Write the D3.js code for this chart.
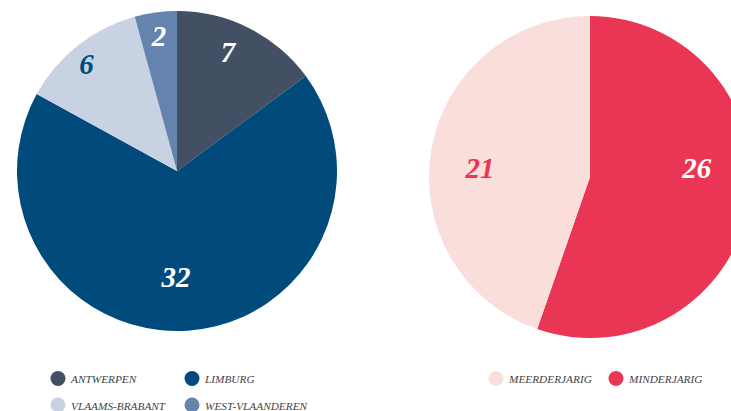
<!DOCTYPE html>
<html>
<head>
<meta charset="utf-8">
<script src="https://cdn.jsdelivr.net/npm/d3@7"></script>
<style>
  body { margin: 0; background: #fff; }
  svg { display: block; }
</style>
</head>
<body>
<svg id="chart" width="731" height="411"></svg>
<script>
// Left pie: provinces
const provinces = ['ANTWERPEN', 'LIMBURG', 'VLAAMS-BRABANT', 'WEST-VLAANDEREN'];
const provinceCounts = [7, 32, 6, 2];
const provinceColors = ['#434f63', '#004b7c', '#c9d2e3', '#6584ad'];
const provinceLabelColors = ['#fff', '#fff', '#004b7c', '#fff'];

// Right pie: age
const ages = ['MINDERJARIG', 'MEERDERJARIG'];
const ageCounts = [26, 21];
const ageColors = ['#e83654', '#f9dedc'];
const ageLabelColors = ['#fff', '#e83654'];

// legend order differs from the slice order on the right
const ageLegendOrder = ['MEERDERJARIG', 'MINDERJARIG'];

const svg = d3.select("#chart");

// label placement: [fraction of radius, angle nudge in radians]
function drawPie(cx, cy, r, names, counts, colors, labelColors, labelPlace) {
    const g = svg.append("g").attr("transform", `translate(${cx},${cy})`);
    const pie = d3.pie().sort(null).value(d => d.v);
    const arcs = pie(names.map((n, i) => ({ n, v: counts[i], i })));
    const arc = d3.arc().innerRadius(0).outerRadius(r);

    g.selectAll("path")
        .data(arcs)
        .enter().append("path")
        .attr("d", arc)
        .attr("fill", d => colors[d.data.i]);

    g.selectAll("text")
        .data(arcs)
        .enter().append("text")
        .attr("x", d => {
            const p = labelPlace[d.data.i];
            const a = (d.startAngle + d.endAngle) / 2 + p[1];
            return Math.sin(a) * r * p[0];
        })
        .attr("y", d => {
            const p = labelPlace[d.data.i];
            const a = (d.startAngle + d.endAngle) / 2 + p[1];
            return -Math.cos(a) * r * p[0];
        })
        .attr("text-anchor", "middle")
        .attr("dominant-baseline", "central")
        .attr("font-family", "'Liberation Serif', serif")
        .attr("font-style", "italic")
        .attr("font-weight", "bold")
        .attr("font-size", 29)
        .attr("fill", d => labelColors[d.data.i])
        .text(d => d.data.v);
}

drawPie(177, 171, 160, provinces, provinceCounts, provinceColors, provinceLabelColors,
    [[0.81, -0.063], [0.66, 0.076], [0.875, -0.035], [0.85, 0]]);
drawPie(590, 177, 161, ages, ageCounts, ageColors, ageLabelColors,
    [[0.665, -0.25], [0.685, -0.086]]);

// legends
function legend(items, colorOf, x0, y0, colW, rowH, perRow) {
    const g = svg.append("g");
    const it = g.selectAll("g")
        .data(items)
        .enter().append("g")
        .attr("transform", (d, i) => `translate(${x0 + (i % perRow) * colW},${y0 + Math.floor(i / perRow) * rowH})`);
    it.append("circle").attr("r", 7.5).attr("fill", d => colorOf(d));
    it.append("text")
        .attr("x", 13)
        .attr("y", 0.5)
        .attr("dominant-baseline", "central")
        .attr("font-family", "'Liberation Serif', serif")
        .attr("font-style", "italic")
        .attr("font-size", 11.3)
        .attr("fill", "#444")
        .text(d => d);
}

legend(provinces, d => provinceColors[provinces.indexOf(d)], 58, 378.5, 134, 26.5, 2);
legend(ageLegendOrder, d => ageColors[ages.indexOf(d)], 496, 378.5, 120, 26, 2);
</script>
</body>
</html>
